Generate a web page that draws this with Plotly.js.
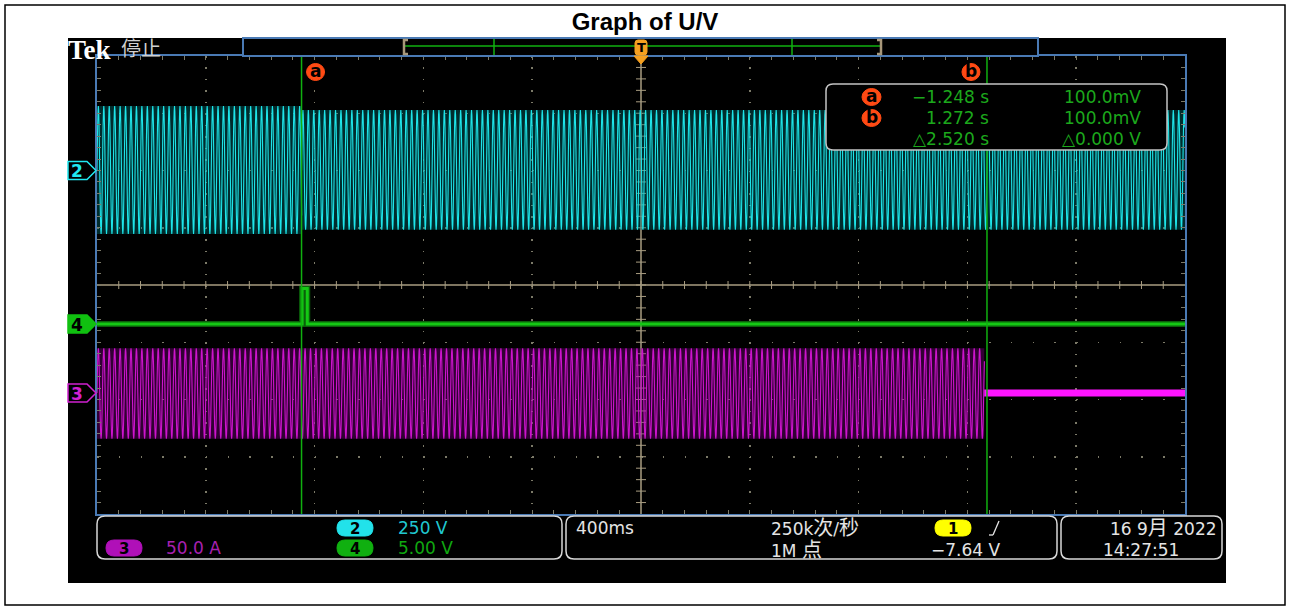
<!DOCTYPE html>
<html>
<head>
<meta charset="utf-8">
<script src="https://cdn.plot.ly/plotly-3.0.1.min.js"></script>
<style>
  html, body { margin: 0; padding: 0; background: #ffffff; }
  #scope { width: 1290px; height: 610px; }
</style>
</head>
<body>
<div id="scope"></div>
<script>
// ---------------- acquisition record ----------------
const timeRange = [-2.0, 2.0];              // s (400 ms/div, trigger at centre)
const cursorLabels = ['a', 'b'];
const cursorTimes = [-1.248, 1.272];        // s
const cursorTimeText = ['\u22121.248 s', '1.272 s'];
const cursorLevelText = ['100.0mV', '100.0mV'];
const cursorDeltaT = '\u25B32.520 s';
const cursorDeltaV = '\u25B30.000 V';

// mains frequency and one sampled cycle (normalised)
const mainsHz = 50;
const cycleShape = [0, 0.38, 0.71, 0.92, 1, 0.92, 0.71, 0.38,
                    0, -0.38, -0.71, -0.92, -1, -0.92, -0.71, -0.38];

// CH2 – line voltage (V), before / after cursor a
const ch2Start = [-2.0, -1.248];
const ch2End   = [-1.248, 2.0];
const ch2Pos   = [282, 264];
const ch2Neg   = [-277, -259];

// CH3 – current (A), running then stopped near cursor b
const ch3Start = [-2.0];
const ch3End   = [1.262];
const ch3Pos   = [39];
const ch3Neg   = [-40];
const ch3IdleTime  = [1.262, 2.0];
const ch3IdleLevel = [0, 0];

// CH4 – control signal (V)
const ch4Time  = [-2.0, -1.246, -1.246, -1.227, -1.227, 2.0];
const ch4Volts = [0, 0, 3.1, 3.1, 0, 0];

// readout labels
const chNumbers   = ['2', '3', '4'];
const chScaleText = ['250 V', '50.0 A', '5.00 V'];
const timebaseText = '400ms';
const sampleRateText = '250k<span style="font-size:20px">次</span>/<span style="font-size:20px">秒</span>';
const recordText = '1M <span style="font-size:20px">点</span>';
const trigSource = '1';
const trigLevelText = '\u22127.64 V';
const dateText = '16 9<span style="font-size:20px">月</span> 2022';
const clockText = '14:27:51';

// ---------------- channel vertical setup ----------------
// [units/div, position in divisions]
const ch2Scale = 250, ch2Pos_div = 2.0;
const ch3Scale = 50,  ch3Pos_div = -1.886;
const ch4Scale = 5,   ch4Pos_div = -0.68;
const rangeFor = (s, o) => [(-4 - o) * s, (4 - o) * s];

// colours
const CYAN = '#1ee4e8', CYAN_DIM = 'rgba(0,125,130,0.35)';
const MAG = '#cc14cc', MAG_DIM = 'rgba(140,0,145,0.35)', MAG_FLAT = '#ff14ff';
const GRN = '#14c814', GRN_GLOW = 'rgba(20,190,20,0.5)', CURSOR = '#10b010', ORANGE = '#ff4a14';
const READ = '#1ca81c';
const FRAME = '#4a7ab4', GRAT = '#7c7a68', CROSS = '#a89c80';

// ---------------- waveform construction ----------------
function tileCycles(t0, t1, pos, neg) {
  const xs = [], ys = [];
  const n = cycleShape.length, dt = 1 / mainsHz / n;
  const steps = Math.round((t1 - t0) / dt);
  for (let i = 0; i <= steps; i++) {
    const s = cycleShape[i % n];
    xs.push(t0 + i * dt);
    ys.push(s >= 0 ? s * pos : -s * neg);
  }
  return { xs, ys };
}

const traces = [];
function addBand(start, end, pos, neg, axis, dim, bright) {
  for (let k = 0; k < start.length; k++) {
    traces.push({
      x: [start[k], end[k], end[k], start[k]],
      y: [pos[k], pos[k], neg[k], neg[k]],
      yaxis: axis, type: 'scatter', mode: 'lines', fill: 'toself',
      fillcolor: dim, line: { width: 0 }, hoverinfo: 'skip', showlegend: false
    });
    const w = tileCycles(start[k], end[k], pos[k], neg[k]);
    traces.push({
      x: w.xs, y: w.ys, yaxis: axis, type: 'scatter', mode: 'lines',
      line: { color: bright, width: 1.1, simplify: false },
      hoverinfo: 'skip', showlegend: false
    });
  }
}
addBand(ch2Start, ch2End, ch2Pos, ch2Neg, 'y2', CYAN_DIM, CYAN);
addBand(ch3Start, ch3End, ch3Pos, ch3Neg, 'y3', MAG_DIM, MAG);
traces.push({
  x: ch3IdleTime, y: ch3IdleLevel, yaxis: 'y3', type: 'scatter', mode: 'lines',
  line: { color: MAG_FLAT, width: 7 }, hoverinfo: 'skip', showlegend: false
});
// CH4: soft glow plus bright core
traces.push({
  x: ch4Time, y: ch4Volts, yaxis: 'y4', type: 'scatter', mode: 'lines',
  line: { color: GRN_GLOW, width: 6 }, hoverinfo: 'skip', showlegend: false
});
traces.push({
  x: ch4Time, y: ch4Volts, yaxis: 'y4', type: 'scatter', mode: 'lines',
  line: { color: GRN, width: 3 }, hoverinfo: 'skip', showlegend: false
});

// ---------------- screen geometry helpers (pixels -> paper) ----------------
const PL = 97, PR = 1185, PT = 56, PB = 514;
const X = p => (p - PL) / (PR - PL);
const Y = p => (PB - p) / (PB - PT);
const P = (x, y) => X(x) + ',' + Y(y);

function roundRect(x0, y0, x1, y1, r) {
  return 'M' + P(x0 + r, y0) + ' L' + P(x1 - r, y0) + ' Q' + P(x1, y0) + ' ' + P(x1, y0 + r) +
         ' L' + P(x1, y1 - r) + ' Q' + P(x1, y1) + ' ' + P(x1 - r, y1) +
         ' L' + P(x0 + r, y1) + ' Q' + P(x0, y1) + ' ' + P(x0, y1 - r) +
         ' L' + P(x0, y0 + r) + ' Q' + P(x0, y0) + ' ' + P(x0 + r, y0) + ' Z';
}
const shapes = [];
const annotations = [];
function pshape(path, fill, line, lw, layer) {
  shapes.push({ type: 'path', xref: 'paper', yref: 'paper', path: path,
    fillcolor: fill, line: { color: line, width: lw }, layer: layer || 'above' });
}
function pline(x0, y0, x1, y1, color, w, layer) {
  shapes.push({ type: 'line', xref: 'paper', yref: 'paper', x0: X(x0), y0: Y(y0), x1: X(x1), y1: Y(y1),
    line: { color: color, width: w }, layer: layer || 'above' });
}
function txt(x, y, text, color, size, xanchor, family, extra) {
  annotations.push(Object.assign({
    xref: 'paper', yref: 'paper', x: X(x), y: Y(y), text: text, showarrow: false,
    xanchor: xanchor || 'left', yanchor: 'middle',
    font: { color: color, size: size, family: family || 'DejaVu Sans, Noto Sans CJK SC' }
  }, extra || {}));
}
function badge(cx, cy, w, h, fill, label, color) {
  pshape(roundRect(cx - w / 2, cy - h / 2, cx + w / 2, cy + h / 2, h / 2), fill, fill, 1);
  txt(cx, cy + 1, '<b>' + label + '</b>', color || '#000', 15, 'center');
}

// instrument screen background
pshape('M' + P(68, 38) + ' L' + P(1226, 38) + ' L' + P(1226, 583) + ' L' + P(68, 583) + ' Z',
       '#000000', '#000000', 0, 'below');
// outer frame of the figure
pshape('M' + P(5, 5) + ' L' + P(1285, 5) + ' L' + P(1285, 605) + ' L' + P(5, 605) + ' Z',
       'rgba(0,0,0,0)', '#000000', 1.5, 'below');

// centre crosshair with 1/5-division ticks
shapes.push({ type: 'line', xref: 'x', yref: 'paper', x0: 0, x1: 0, y0: 0, y1: 1,
  line: { color: CROSS, width: 1.5 }, layer: 'between' });
shapes.push({ type: 'line', xref: 'paper', yref: 'y', x0: 0, x1: 1, y0: 0, y1: 0,
  line: { color: CROSS, width: 1.5 }, layer: 'between' });
for (let i = -19; i <= 19; i++) {
  shapes.push({ type: 'line', xref: 'x', yref: 'y', xsizemode: 'pixel', xanchor: 0,
    x0: -5, x1: 5, y0: i * 0.2, y1: i * 0.2, line: { color: CROSS, width: 1 }, layer: 'between' });
}
for (let i = -24; i <= 24; i++) {
  shapes.push({ type: 'line', xref: 'x', yref: 'y', ysizemode: 'pixel', yanchor: 0,
    y0: -4, y1: 4, x0: i * 0.08, x1: i * 0.08, line: { color: CROSS, width: 1 }, layer: 'between' });
}

// cursors
cursorTimes.forEach((t, i) => {
  shapes.push({ type: 'line', xref: 'x', yref: 'paper', x0: t, x1: t, y0: 0, y1: 1,
    line: { color: CURSOR, width: 1.5 }, layer: 'above' });
  const off = i === 0 ? 14 : -16;
  shapes.push({ type: 'circle', xref: 'x', yref: 'paper', xsizemode: 'pixel', ysizemode: 'pixel',
    xanchor: t, yanchor: Y(72), x0: off - 9, x1: off + 9, y0: -8.5, y1: 8.5,
    fillcolor: ORANGE, line: { color: ORANGE, width: 1 }, layer: 'above' });
  annotations.push({ xref: 'x', yref: 'paper', x: t, y: Y(71), xshift: off, text: '<b>' + cursorLabels[i] + '</b>',
    showarrow: false, xanchor: 'center', yanchor: 'middle',
    font: { color: '#000', size: 17, family: 'DejaVu Sans' } });
});

// cursor readout box
pshape(roundRect(826, 84, 1167, 150, 7), '#000000', '#c4c4c4', 1.5);
[97, 118].forEach((yy, i) => {
  shapes.push({ type: 'circle', xref: 'paper', yref: 'paper', x0: X(862), x1: X(881), y0: Y(yy - 8.5), y1: Y(yy + 8.5),
    fillcolor: ORANGE, line: { color: ORANGE, width: 1 }, layer: 'above' });
  txt(871.5, yy - 1, '<b>' + cursorLabels[i] + '</b>', '#000', 17, 'center');
  txt(991, yy, cursorTimeText[i], READ, 17, 'right');
  txt(1143, yy, cursorLevelText[i], READ, 17, 'right');
});
txt(991, 139, cursorDeltaT, READ, 17, 'right');
txt(1143, 139, cursorDeltaV, READ, 17, 'right');

// record view bar above the graticule
pshape('M' + P(243, 38) + ' L' + P(1038, 38) + ' L' + P(1038, 56) + ' L' + P(243, 56) + ' Z',
       '#000000', FRAME, 2);
pline(405, 46, 880, 46, '#10b010', 1.5);
pline(494, 39, 494, 55, '#10b010', 1.5);
pline(792, 39, 792, 55, '#10b010', 1.5);
pshape('M' + P(408, 40) + ' L' + P(404, 40) + ' L' + P(404, 54) + ' L' + P(408, 54), 'rgba(0,0,0,0)', '#a8987a', 2.5);
pshape('M' + P(877, 40) + ' L' + P(881, 40) + ' L' + P(881, 54) + ' L' + P(877, 54), 'rgba(0,0,0,0)', '#a8987a', 2.5);
// trigger position marker
pshape(roundRect(635, 40, 647, 55, 3), '#f5a020', '#f5a020', 1);
pshape('M' + P(634, 56) + ' L' + P(648, 56) + ' L' + P(641, 64) + ' Z', '#f5a020', '#f5a020', 1);
txt(641, 48, '<b>T</b>', '#000', 13, 'center');

// brand and run state
txt(66, 49.5, '<b>Tek</b>', '#ffffff', 27, 'left', 'Liberation Serif');
txt(119, 48, '停止', '#d0d0d0', 20, 'left', 'Noto Sans CJK SC');

// channel ground markers
function marker(num, posDiv, color, filled) {
  const yc = 285 - posDiv * 57.25;
  const path = 'M' + P(68, yc - 9) + ' L' + P(87, yc - 9) + ' L' + P(96, yc) + ' L' + P(87, yc + 9) + ' L' + P(68, yc + 9) + ' Z';
  pshape(path, filled ? color : '#000000', color, 1.5);
  txt(77, yc + 1, '<b>' + num + '</b>', filled ? '#000' : color, 17, 'center');
}
marker(chNumbers[0], ch2Pos_div, '#20e8f0', false);
marker(chNumbers[2], ch4Pos_div, '#10c010', true);
marker(chNumbers[1], ch3Pos_div, '#d020d0', false);

// bottom information panels
pshape(roundRect(97, 516, 562, 559, 8), '#000000', '#d8d8d8', 1.5);
pshape(roundRect(566, 516, 1057, 559, 8), '#000000', '#d8d8d8', 1.5);
pshape(roundRect(1061, 516, 1222, 559, 8), '#000000', '#d8d8d8', 1.5);
badge(355, 528, 36, 16, '#22e2ea', chNumbers[0]);
txt(396, 528, chScaleText[0], '#20c8d0', 17, 'left');
badge(355, 548, 36, 16, '#10b010', chNumbers[2]);
txt(396, 548, chScaleText[2], '#10a810', 17, 'left');
badge(124, 548, 36, 16, '#b010b8', chNumbers[1]);
txt(164, 548, chScaleText[1], '#a820b0', 17, 'left');
txt(574, 528, timebaseText, '#e4e4e4', 17, 'left');
txt(769, 528, sampleRateText, '#e4e4e4', 17, 'left');
txt(769, 550, recordText, '#e4e4e4', 17, 'left');
badge(953, 528, 36, 16, '#ffff00', trigSource);
pline(989, 535, 993, 535, '#e4e4e4', 1.3);
pline(993, 535, 999, 521, '#e4e4e4', 1.3);
txt(1003, 550, trigLevelText, '#e4e4e4', 17, 'right');
txt(1219, 528, dateText, '#e4e4e4', 17, 'right');
txt(1101, 550, clockText, '#e4e4e4', 17, 'left');

// ---------------- layout ----------------
const layout = {
  width: 1290, height: 610,
  margin: { l: 97, r: 105, t: 56, b: 96, pad: 0 },
  paper_bgcolor: '#ffffff', plot_bgcolor: '#000000',
  showlegend: false,
  title: { text: '<b>Graph of U/V</b>', x: 0.5, xref: 'container', xanchor: 'center',
           y: 1 - 22 / 610, yref: 'container', yanchor: 'middle',
           font: { family: 'Liberation Sans, Arial', size: 24, color: '#000000' } },
  xaxis: {
    range: timeRange, dtick: 0.4, tick0: 0, showgrid: true, gridcolor: GRAT, gridwidth: 1.5,
    griddash: '1.5px,9.95px', zeroline: false, showticklabels: false,
    showline: true, linecolor: FRAME, linewidth: 2, mirror: 'ticks',
    ticks: 'inside', ticklen: 4, tickcolor: GRAT, tickwidth: 1,
    minor: { dtick: 0.08, tick0: 0, ticks: 'inside', ticklen: 4, tickcolor: GRAT, showgrid: false },
    fixedrange: true
  },
  yaxis: {
    range: [-4, 4], dtick: 1, tick0: 0, showgrid: true, gridcolor: GRAT, gridwidth: 1.5,
    griddash: '1.5px,20.26px', zeroline: false, showticklabels: false,
    showline: true, linecolor: FRAME, linewidth: 2, mirror: 'ticks',
    ticks: 'inside', ticklen: 4, tickcolor: GRAT, tickwidth: 1,
    minor: { dtick: 0.2, tick0: 0, ticks: 'inside', ticklen: 4, tickcolor: GRAT, showgrid: false },
    fixedrange: true
  },
  yaxis2: { overlaying: 'y', range: rangeFor(ch2Scale, ch2Pos_div), visible: false, fixedrange: true },
  yaxis3: { overlaying: 'y', range: rangeFor(ch3Scale, ch3Pos_div), visible: false, fixedrange: true },
  yaxis4: { overlaying: 'y', range: rangeFor(ch4Scale, ch4Pos_div), visible: false, fixedrange: true },
  shapes: shapes,
  annotations: annotations
};

Plotly.newPlot('scope', traces, layout, { staticPlot: true, displayModeBar: false });
</script>
</body>
</html>
